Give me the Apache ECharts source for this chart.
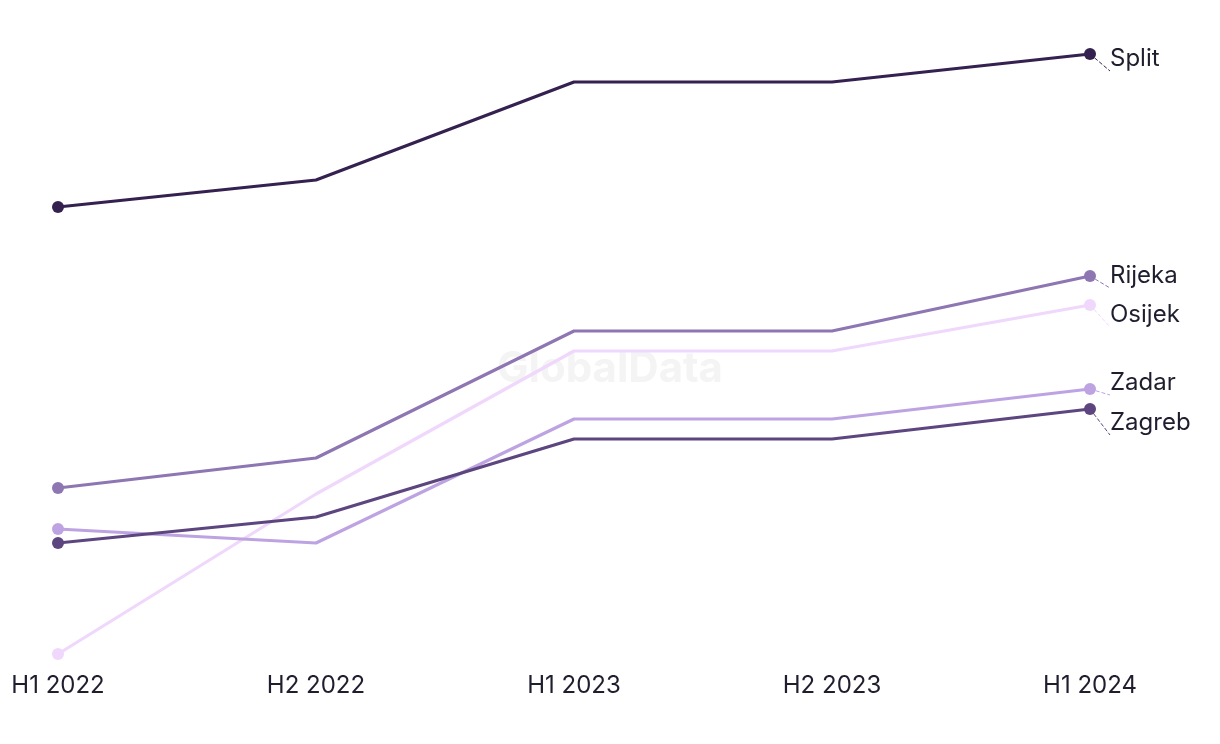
<!DOCTYPE html>
<html><head><meta charset="utf-8">
<script src="https://cdn.jsdelivr.net/npm/echarts@6/dist/echarts.min.js"></script>
<style>html,body{margin:0;padding:0;background:#fff}#c{width:1220px;height:744px}</style>
</head><body><div id="c"></div>
<script>
const categories = ["H1 2022","H2 2022","H1 2023","H2 2023","H1 2024"];
const split  = [84.7, 87.4, 97.2, 97.2, 100.0];
const rijeka = [56.6, 59.6, 72.3, 72.3, 77.8];
const osijek = [40.0, 56.0, 70.3, 70.3, 74.9];
const zadar  = [52.5, 51.1, 63.5, 63.5, 66.5];
const zagreb = [51.1, 53.7, 61.5, 61.5, 64.5];
const seriesDefs = [
  {name:"Split", data:split, color:"#35214f"},
  {name:"Rijeka", data:rijeka, color:"#8e76b3"},
  {name:"Osijek", data:osijek, color:"#efd8fb"},
  {name:"Zadar", data:zadar, color:"#bea3e3"},
  {name:"Zagreb", data:zagreb, color:"#5d467f"}
];
// end-label vertical nudges (to avoid overlap, as in the reference)
const labelNudge = {Split:5, Rijeka:0, Osijek:10, Zadar:-6, Zagreb:14};
const FONT = "Inter, 'Noto Sans', sans-serif";
const chart = echarts.init(document.getElementById('c'));
chart.setOption({
  animation:false,
  backgroundColor:'#fff',
  graphic:[{type:'text', left:'center', top:348, z:-1, silent:true,
    style:{text:'GlobalData', font:'bold 42px '+FONT, fill:'#f4f4f4'}}],
  grid:{left:58, right:130, top:54, bottom:90},
  xAxis:{type:'category', data:categories, boundaryGap:false,
    axisLine:{show:false}, axisTick:{show:false}, splitLine:{show:false},
    axisLabel:{color:'#1e1e2e', fontSize:24, fontFamily:FONT, margin:20}},
  yAxis:{type:'value', min:40, max:100, show:false, splitLine:{show:false}},
  series: seriesDefs.map(s=>({
    name:s.name, type:'line',
    data:s.data.map((v,i)=>{
      if(i===0) return {value:v, symbolSize:12};
      if(i===s.data.length-1) return {value:v, symbolSize:12,
        label:{show:true, position:'right', distance:14, offset:[0,labelNudge[s.name]],
          color:'#1e1e2e', fontSize:24, fontFamily:FONT, formatter:s.name},
        labelLine:{show:true, length2:0, lineStyle:{color:s.color, type:'dashed', width:1}}};
      return {value:v, symbol:'none'};
    }),
    color:s.color, lineStyle:{width:3.2, color:s.color}, itemStyle:{color:s.color},
    symbol:'circle', showSymbol:true,
    label:{show:false}
  }))
});
</script></body></html>
